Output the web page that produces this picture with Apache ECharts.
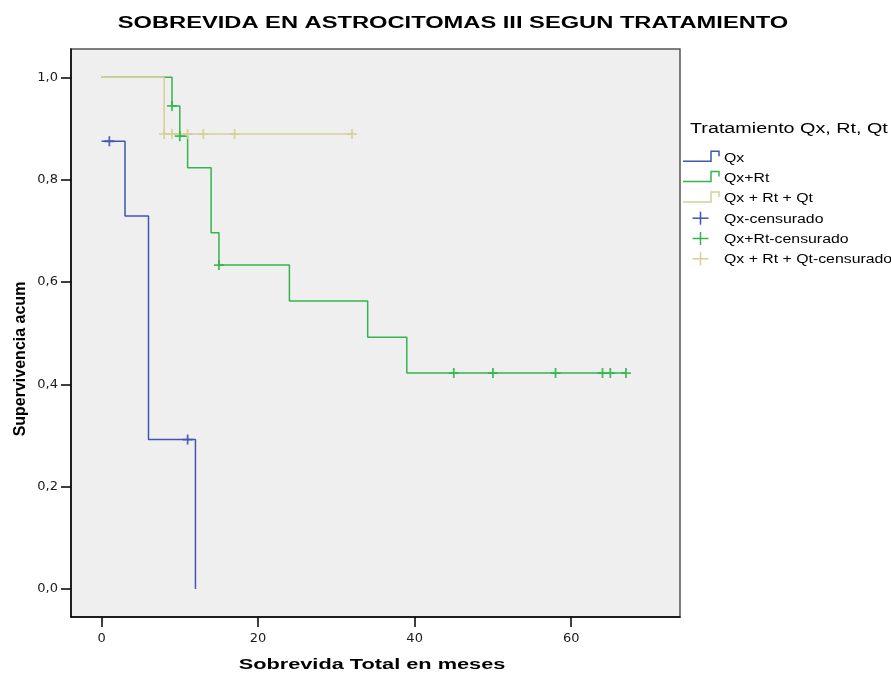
<!DOCTYPE html>
<html>
<head>
<meta charset="utf-8">
<script src="https://cdn.jsdelivr.net/npm/echarts@6/dist/echarts.min.js"></script>
<style>
html,body{margin:0;padding:0;background:#fff;}
#chart{width:891px;height:675px;}
</style>
</head>
<body>
<div id="chart"></div>
<script>
// ---- data ----
const chartTitle = 'SOBREVIDA EN ASTROCITOMAS III SEGUN TRATAMIENTO';
const xAxisName = 'Sobrevida Total en meses';
const yAxisName = 'Supervivencia acum';
const legendTitle = 'Tratamiento Qx, Rt, Qt';
const groupNames = ['Qx', 'Qx+Rt', 'Qx + Rt + Qt'];
const censorSuffix = '-censurado';
const xTicks = [0, 20, 40, 60];
const yTicks = [0, 0.2, 0.4, 0.6, 0.8, 1.0];

// Kaplan-Meier steps (time, cumulative survival)
const qxTimes = [0, 3, 6, 12];
const qxSurv = [0.875, 0.729, 0.292, 0];
const qxRtTimes = [0, 9, 10, 11, 14, 15, 24, 34, 39, 67];
const qxRtSurv = [1, 0.944, 0.885, 0.823, 0.696, 0.633, 0.563, 0.492, 0.422, 0.422];
const qxRtQtTimes = [0, 8, 32];
const qxRtQtSurv = [1, 0.889, 0.889];

// censored observations
const qxCensTimes = [1, 11];
const qxCensSurv = [0.875, 0.292];
const qxRtCensTimes = [9, 10, 15, 45, 50, 58, 64, 65, 67];
const qxRtCensSurv = [0.944, 0.885, 0.633, 0.422, 0.422, 0.422, 0.422, 0.422, 0.422];
const qxRtQtCensTimes = [8, 9, 11, 13, 17, 32];
const qxRtQtCensSurv = [0.889, 0.889, 0.889, 0.889, 0.889, 0.889];

// ---- styles ----
const colors = ['#3f56b2', '#33b54b', '#d6cf94'];
const plusPath = 'path://M4.1,0 h1.8 v4.1 h4.1 v1.8 h-4.1 v4.1 h-1.8 v-4.1 h-4.1 v-1.8 h4.1 z';

function pairs(t, s) { return t.map((v, i) => [v, s[i]]); }

const stepData = [pairs(qxTimes, qxSurv), pairs(qxRtTimes, qxRtSurv), pairs(qxRtQtTimes, qxRtQtSurv)];
const censData = [pairs(qxCensTimes, qxCensSurv), pairs(qxRtCensTimes, qxRtCensSurv), pairs(qxRtQtCensTimes, qxRtQtCensSurv)];

const series = [];
stepData.forEach((d, i) => {
  series.push({
    name: groupNames[i], type: 'line', step: 'end', data: d,
    symbol: 'none', lineStyle: { color: colors[i], width: 1.5 },
    itemStyle: { color: colors[i] }, z: 2 + i, silent: true, animation: false
  });
});
censData.forEach((d, i) => {
  series.push({
    name: groupNames[i] + censorSuffix, type: 'scatter', data: d,
    symbol: plusPath, symbolSize: [10, 10],
    itemStyle: { color: colors[i], opacity: 0.9 }, z: 6, silent: true, animation: false
  });
});

// ---- texts and legend built with graphic ----
const graphic = [];
const font = '"Liberation Sans", Arial, sans-serif';
graphic.push({
  type: 'text', x: 453, y: 23.5, scaleX: 1.48,
  style: { text: chartTitle, fill: '#000', fontSize: 16, fontWeight: 'bold', fontFamily: font,
           align: 'center', verticalAlign: 'middle', textAlign: 'center', textVerticalAlign: 'middle' }
});
graphic.push({
  type: 'text', x: 372, y: 665, scaleX: 1.45,
  style: { text: xAxisName, fill: '#000', fontSize: 15, fontWeight: 'bold', fontFamily: font,
           align: 'center', verticalAlign: 'middle', textAlign: 'center', textVerticalAlign: 'middle' }
});
graphic.push({
  type: 'text', x: 21, y: 359, rotation: Math.PI / 2,
  style: { text: yAxisName, fill: '#000', fontSize: 16, fontWeight: 'bold', fontFamily: font,
           align: 'center', verticalAlign: 'middle', textAlign: 'center', textVerticalAlign: 'middle' }
});
graphic.push({
  type: 'text', x: 690, y: 129, scaleX: 1.41,
  style: { text: legendTitle, fill: '#000', fontSize: 14, fontFamily: font,
           align: 'left', verticalAlign: 'middle', textAlign: 'left', textVerticalAlign: 'middle' }
});
const legendY0 = 158.3, legendGap = 20.3;
groupNames.forEach((n, i) => {
  const y = legendY0 + i * legendGap;
  graphic.push({
    type: 'polyline', silent: true,
    shape: { points: [[683, y + 3], [711, y + 3], [711, y - 7], [719, y - 7], [719, y - 2]] },
    style: { stroke: colors[i], fill: null, lineWidth: 1.5 }
  });
  graphic.push({
    type: 'text', x: 724, y: y, scaleX: 1.32,
    style: { text: n, fill: '#000', fontSize: 12, fontFamily: font,
             align: 'left', verticalAlign: 'middle', textAlign: 'left', textVerticalAlign: 'middle' }
  });
});
groupNames.forEach((n, i) => {
  const y = legendY0 + (i + 3) * legendGap;
  const cy = y - 1;
  graphic.push({ type: 'line', silent: true, shape: { x1: 692.5, y1: cy, x2: 708.5, y2: cy },
                 style: { stroke: colors[i], lineWidth: 1.5 } });
  graphic.push({ type: 'line', silent: true, shape: { x1: 700.5, y1: cy - 6.5, x2: 700.5, y2: cy + 6.5 },
                 style: { stroke: colors[i], lineWidth: 1.5 } });
  graphic.push({
    type: 'text', x: 724, y: y, scaleX: 1.32,
    style: { text: n + censorSuffix, fill: '#000', fontSize: 12, fontFamily: font,
             align: 'left', verticalAlign: 'middle', textAlign: 'left', textVerticalAlign: 'middle' }
  });
});

const chart = echarts.init(document.getElementById('chart'), null, { renderer: 'canvas' });
chart.setOption({
  backgroundColor: '#ffffff',
  animation: false,
  grid: {
    left: 71, top: 49, width: 609, height: 568,
    show: true, backgroundColor: '#efefef', borderColor: '#555', borderWidth: 1.5
  },
  xAxis: {
    type: 'value', min: -3.9, max: 73.9,
    axisLine: { show: true, onZero: false, lineStyle: { color: '#000', width: 1.5 } },
    axisTick: { show: true, inside: false, length: 10, customValues: xTicks, lineStyle: { color: '#000', width: 1.5 } },
    axisLabel: { customValues: xTicks, margin: 15, color: '#1a1a1a', fontSize: 13, fontFamily: '"DejaVu Sans", sans-serif',
                 formatter: v => String(v) },
    splitLine: { show: false }
  },
  yAxis: {
    type: 'value', min: -0.0547, max: 1.0553,
    axisLine: { show: true, onZero: false, lineStyle: { color: '#000', width: 1.5 } },
    axisTick: { show: true, inside: false, length: 10, customValues: yTicks, lineStyle: { color: '#000', width: 1.5 } },
    axisLabel: { customValues: yTicks, margin: 13, color: '#1a1a1a', fontSize: 13, fontFamily: '"DejaVu Sans", sans-serif',
                 formatter: v => v.toFixed(1).replace('.', ',') },
    splitLine: { show: false }
  },
  graphic: graphic,
  series: series
});
</script>
</body>
</html>
